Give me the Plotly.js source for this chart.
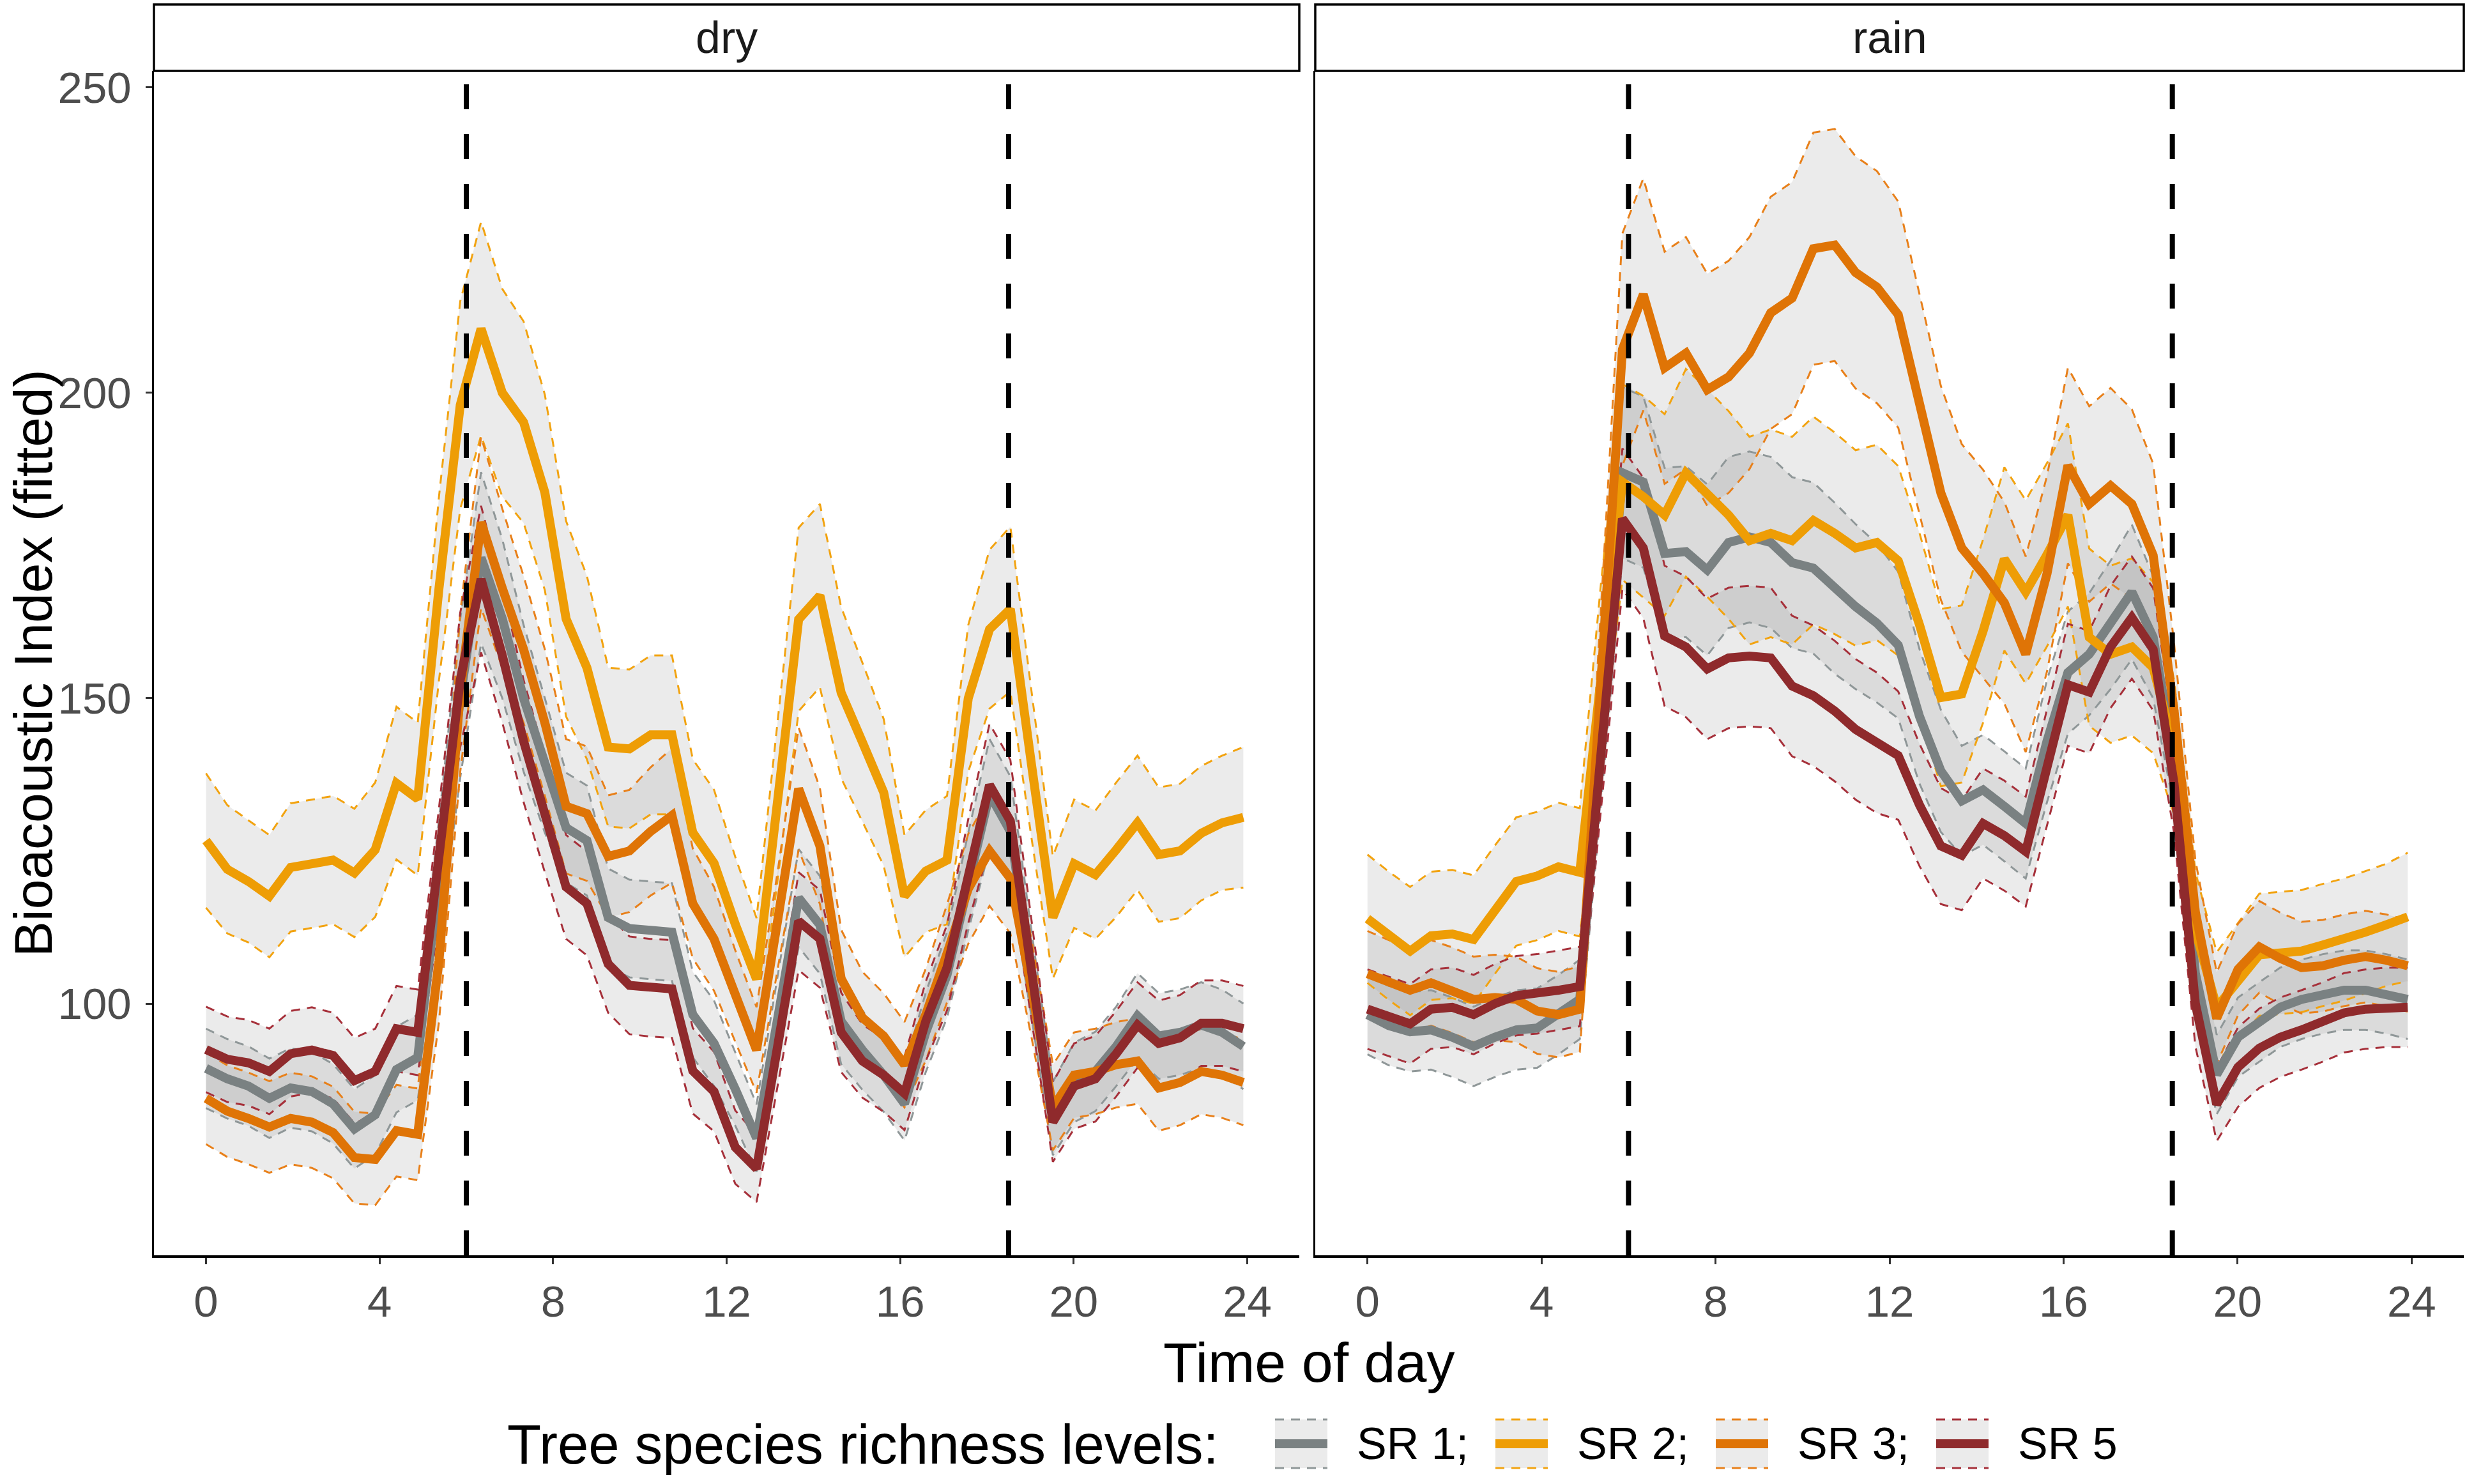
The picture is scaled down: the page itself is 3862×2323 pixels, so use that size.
<!DOCTYPE html>
<html>
<head>
<meta charset="utf-8">
<script src="https://cdn.plot.ly/plotly-3.0.1.min.js"></script>
<style>
html,body{margin:0;padding:0;background:#ffffff;}
#chart{width:3862px;height:2323px;}
</style>
</head>
<body>
<div id="chart"></div>
<script>
// ---------------- DATA ----------------
const timeOfDay = [0,0.49,0.98,1.46,1.95,2.44,2.93,3.42,3.9,4.39,4.88,5.37,5.86,6.34,6.83,7.32,7.81,8.3,8.78,9.27,9.76,10.25,10.74,11.22,11.71,12.2,12.69,13.18,13.66,14.15,14.64,15.13,15.62,16.1,16.59,17.08,17.57,18.06,18.54,19.03,19.52,20.01,20.5,20.98,21.47,21.96,22.45,22.94,23.42,23.91];

const panelNames = ['dry', 'rain'];
const seriesNames = ['SR 1', 'SR 2', 'SR 3', 'SR 5'];
const legendLabels = ['SR 1;', 'SR 2;', 'SR 3;', 'SR 5'];
const legendTitle = 'Tree species richness levels:';
const xTitle = 'Time of day';
const yTitle = 'Bioacoustic Index (fitted)';
const sunTimes = [6, 18.5];
const xTickValues = [0, 4, 8, 12, 16, 20, 24];
const yTickValues = [100, 150, 200, 250];

// dry season: fitted values and confidence half-widths
const dry_SR1_fit = [89.4,87.7,86.5,84.5,86.2,85.6,83.6,79.5,81.8,89.2,
 91.2,120,150,173,163,150,139,128.8,126.7,114.1,
 112.3,112,111.7,98.2,93.5,86,78,97.7,117.3,112.9,
 97.1,92.4,88.3,83.6,95.3,104.7,120,134.3,128.2,104.7,
 81.2,87.1,88.9,93,98,94.7,95.3,96.5,95.3,93];
const dry_SR1_ci = [6.5,6.5,6.5,6.5,6.5,6.5,6.5,6.5,6.5,7,
 7,10,13,14,13,12,11,9,9,8,
 8,8,8,7,7,6,5.5,7,8,8,
 7,6.5,6,6,6.5,7,8,9,9,7,
 6,6.5,6.5,6.5,7,7,7,7,7,7];

const dry_SR2_fit = [126.7,122,120,117.6,122.3,122.9,123.5,121.4,125.2,136.1,
 133.5,168,198,210.5,200,195.2,183.7,163,155,142,
 141.7,144,144,128,123,113,104,133.5,162.9,166.8,
 150.9,142.8,134.6,117.6,121.7,123.5,150,161.3,164.6,139,
 114.1,122.9,121.1,125.2,129.6,124.4,125,127.9,129.6,130.5];
const dry_SR2_ci = [11,10.5,10,10,10.5,10.5,10.5,10.5,11,12.5,
 12.5,15,17,17.5,17,16.5,16,16,15,13,
 13,13,13,12,12,11,10,13,15,15,
 14,13,12,10,10,10.5,12,13,13.5,12,
 10,10.5,10.5,11,11,11,11,11,11,11.5];

const dry_SR3_fit = [84.5,82.4,81.2,79.8,81.2,80.6,78.9,74.8,74.5,79.2,
 78.6,107,151,178.8,168,158,146,132.3,131.1,124.1,
 125,128.2,130.8,116.4,110.6,101.2,92.4,113.8,135.2,125.8,
 104.1,97.7,94.7,90,98.2,108.2,118.8,125,120.5,102.4,
 83,88.3,88.9,90,90.6,86.2,87.1,88.9,88.3,87.1];
const dry_SR3_ci = [7.5,7.5,7.5,7.5,7.5,7.5,7.5,7.5,7.5,7.5,
 7.5,10,13,14,13,12,12,11,11,10,
 10,10.5,11,9,8.5,7.5,7,8,10,9.5,
 8,7.5,7,7,7.5,8,9,9,9,8,
 7,7,7,7,7,7,7,7,7,7];

const dry_SR5_fit = [92.5,90.9,90.3,88.9,91.8,92.4,91.5,87.4,88.9,95.9,
 95.3,123,153,169.5,157,143,131,119.1,116.4,106.5,
 103,102.6,102.4,89,85.6,76.5,73,93.2,113.5,110.6,
 95.3,90.6,88.3,85.3,97.1,105.9,121.7,135.8,129.9,105.3,
 80.6,86.5,87.7,91.8,96.5,93.5,94.4,96.8,96.8,95.9];
const dry_SR5_ci = [7,7,7,7,7,7,7,7,7,7,
 7,9,11,12,11,10,9.5,8.5,8.5,8,
 8,8,8,7,6.5,6,5.5,6.5,8,8,
 6.5,6,6,6,6.5,7,8.5,10,10,8,
 6.5,7,7,7,7,7,7,7,7,7];

// rain season
const rain_SR1_fit = [98.2,96.4,95.4,95.7,94.5,93,94.5,95.7,96,98.2,
 100.7,143,186.9,185.4,173.7,174,171,175.5,176.4,175.5,
 172.2,171.3,168,165,162.3,158.7,147,138.1,133.2,135,
 132.3,129.5,143,154.2,157.2,162,167.4,160,140,105,
 88.4,94.5,97,99.4,100.7,101.6,102.2,102.2,101.6,100.7];
const rain_SR1_ci = [6.5,6.5,6.5,6.5,6.5,6.5,6.5,6.5,6.5,6.5,
 6.5,10,14,14,14,14,14,14,14,14,
 14,14,14,13.5,13,12,11,10,9,9,
 9,9,10,10,10,10.5,11,10,8,7,
 6.5,6.5,6.5,6.5,6.5,6.5,6.5,6.5,6.5,6.5];

const rain_SR2_fit = [113.9,111.1,108.6,111.1,111.4,110.5,115.4,120,120.9,122.4,
 121.5,155,185.4,183,180,186.9,183.6,180,175.8,177,
 175.8,179.1,177,174.6,175.5,172.5,162,150.1,150.7,161,
 172.8,167.4,173.5,180,160,157.2,158.4,155,142,112,
 99.4,103.7,108,108.3,108.6,109.6,110.5,111.7,112.9,114.2];
const rain_SR2_ci = [10.5,10.5,10.5,10.5,10.5,10.5,10.5,10.5,10.5,10.5,
 10.5,14,16,16.5,16.5,17,17,17,17,17,
 17,17,16.5,16,16,15.5,15,14.5,14.5,15,
 15,15,15,15,14.5,14.5,14.5,14,11,9.5,
 9,9.5,10,10,10,10,10,10,10,10.5];

const rain_SR3_fit = [104.9,103.4,102.2,103.4,102.2,100.7,101,100.7,98.8,98.2,
 99.1,153,207.1,216.1,204.1,206.5,200.5,202.6,206.5,213.1,
 215.5,223.6,224.2,219.7,217.3,212.8,198.1,183.6,174.6,170.4,
 165.6,157.2,170.4,188.1,181.8,184.8,181.8,173.4,148,115,
 97.6,105.6,109.3,107.4,105.9,106.2,107.1,107.7,107.1,106.2];
const rain_SR3_ci = [7,7,7,7,7,7,7,7,7,7,
 7,12,19,19,19,19,19,19,19,19,
 19,19,19,19,19,18.5,18,17.5,17,17,
 16.5,16,16,16,16,16,15.5,15,11,8.5,
 7.5,7.5,7.5,7.5,7.5,7.5,7.5,7.5,7.5,7.5];

const rain_SR5_fit = [99.1,97.9,96.7,99.1,99.4,98.2,100,101.3,101.6,102.2,
 102.8,141,179.4,174.6,160.2,158.4,154.8,156.6,156.9,156.6,
 152,150.4,147.9,144.9,142.7,140.6,132.5,125.8,124.3,129.5,
 127.5,124.9,138.7,152.2,151,158.4,163.2,158,136,100,
 83.5,89.6,92.7,94.5,95.7,97,98.5,99.1,99.4,99.4];
const rain_SR5_ci = [6.5,6.5,6.5,6.5,6.5,6.5,6.5,6.5,6.5,6.5,
 6.5,9,11.5,11.5,11.5,11.5,11.5,11.5,11.5,11.5,
 11.5,11.5,11.5,11.5,11.5,10.5,10,9.5,9,9,
 9,9,9.5,10,10,10,10,10,8,7,
 6,6.5,6.5,6.5,6.5,6.5,6.5,6.5,6.5,6.5];

// ---------------- STYLE ----------------
const lineColors = ['#7a8182', '#ee9d05', '#df7406', '#8f2a2c'];
const dashColors = ['#8f9798', '#f2a310', '#e8801a', '#a6303a'];
const ribbonFill = 'rgba(160,160,160,0.21)';
const keyFill = '#ebebeb';
const FONT = 'Liberation Sans, Arial, Helvetica, sans-serif';

const panelFits = [
  [dry_SR1_fit, dry_SR2_fit, dry_SR3_fit, dry_SR5_fit],
  [rain_SR1_fit, rain_SR2_fit, rain_SR3_fit, rain_SR5_fit]
];
const panelCis = [
  [dry_SR1_ci, dry_SR2_ci, dry_SR3_ci, dry_SR5_ci],
  [rain_SR1_ci, rain_SR2_ci, rain_SR3_ci, rain_SR5_ci]
];

const traces = [];
panelNames.forEach((pname, pi) => {
  const xa = pi === 0 ? 'x' : 'x2';
  const ya = pi === 0 ? 'y' : 'y2';
  const fits = panelFits[pi], cis = panelCis[pi];
  const lows = fits.map((f, si) => f.map((v, i) => v - cis[si][i]));
  const highs = fits.map((f, si) => f.map((v, i) => v + cis[si][i]));
  // ribbons
  fits.forEach((f, si) => {
    traces.push({x: timeOfDay, y: lows[si], xaxis: xa, yaxis: ya, type: 'scatter', mode: 'lines',
      line: {width: 0, color: 'rgba(0,0,0,0)'}, showlegend: false, hoverinfo: 'skip'});
    traces.push({x: timeOfDay, y: highs[si], xaxis: xa, yaxis: ya, type: 'scatter', mode: 'lines',
      line: {width: 0, color: 'rgba(0,0,0,0)'}, fill: 'tonexty', fillcolor: ribbonFill,
      showlegend: false, hoverinfo: 'skip'});
  });
  // dashed confidence bounds
  fits.forEach((f, si) => {
    [lows[si], highs[si]].forEach(b => {
      traces.push({x: timeOfDay, y: b, xaxis: xa, yaxis: ya, type: 'scatter', mode: 'lines',
        line: {width: 3, color: dashColors[si], dash: '14px,11px'}, showlegend: false, hoverinfo: 'skip'});
    });
  });
  // fitted lines
  fits.forEach((f, si) => {
    traces.push({x: timeOfDay, y: f, xaxis: xa, yaxis: ya, type: 'scatter', mode: 'lines',
      name: seriesNames[si], showlegend: false,
      line: {width: 14, color: lineColors[si]}});
  });
});

// ---------------- LAYOUT ----------------
const W = 3862, H = 2323;
const px = v => v / W;
const py = v => 1 - v / H;
const dryL = 241, dryR = 2034, rainL = 2059, rainR = 3857;
const plotTop = 111, plotBot = 1965, stripTop = 7;

const axisCommon = {
  range: [-1.2, 25.2], tickvals: xTickValues, ticks: 'outside', ticklen: 10, tickwidth: 3,
  tickcolor: '#333333', showline: true, linecolor: '#000000', linewidth: 3.5,
  showgrid: false, zeroline: false, tickfont: {size: 69, color: '#4d4d4d', family: FONT},
  fixedrange: true
};
const yCommon = {
  domain: [py(plotBot), py(plotTop)], range: [58.8, 252.7], showline: true, linecolor: '#000000',
  linewidth: 3.5, showgrid: false, zeroline: false, fixedrange: true
};

const shapes = [];
const annotations = [];
[[dryL, dryR, 'x', 'y'], [rainL, rainR, 'x2', 'y2']].forEach((p, pi) => {
  shapes.push({type: 'rect', xref: 'paper', yref: 'paper', x0: px(p[0]), x1: px(p[1]),
    y0: py(plotTop), y1: py(stripTop), line: {color: '#000', width: 3.5}, fillcolor: '#ffffff', layer: 'above'});
  annotations.push({xref: 'paper', yref: 'paper', x: px((p[0] + p[1]) / 2), y: py((plotTop + stripTop) / 2),
    text: panelNames[pi], showarrow: false, xanchor: 'center', yanchor: 'middle',
    font: {size: 70, color: '#1a1a1a', family: FONT}});
  sunTimes.forEach(t => {
    shapes.push({type: 'line', xref: p[2], yref: p[3] + ' domain', x0: t, x1: t, y0: 0, y1: 1,
      line: {color: '#000000', width: 8, dash: '39px,39px'}, layer: 'above'});
  });
});
// axis titles
annotations.push({xref: 'paper', yref: 'paper', x: px((dryL + rainR) / 2), y: py(2132),
  text: xTitle, showarrow: false, xanchor: 'center', yanchor: 'middle', borderpad: 0,
  font: {size: 88, color: '#000', family: FONT}});
annotations.push({xref: 'paper', yref: 'paper', x: px(52), y: py((plotTop + plotBot) / 2),
  text: yTitle, textangle: -90, showarrow: false, xanchor: 'center', yanchor: 'middle',
  borderpad: 0, font: {size: 84, color: '#000', family: FONT}});

// legend (drawn as keys + real text)
const legendY = 2260, keyHalf = 38;
const labelLeft = [2122, 2467, 2812, 3157];
annotations.push({xref: 'paper', yref: 'paper', x: px(792), y: py(legendY), text: legendTitle,
  showarrow: false, xanchor: 'left', yanchor: 'middle', font: {size: 87, color: '#000', family: FONT}});
seriesNames.forEach((s, si) => {
  const kx0 = labelLeft[si] - 126, kx1 = labelLeft[si] - 44;
  shapes.push({type: 'rect', xref: 'paper', yref: 'paper', x0: px(kx0), x1: px(kx1),
    y0: py(legendY + keyHalf), y1: py(legendY - keyHalf), line: {width: 0}, fillcolor: keyFill});
  [legendY - keyHalf, legendY + keyHalf].forEach(yy => {
    shapes.push({type: 'line', xref: 'paper', yref: 'paper', x0: px(kx0), x1: px(kx1),
      y0: py(yy), y1: py(yy), line: {color: dashColors[si], width: 3, dash: '14px,11px'}});
  });
  shapes.push({type: 'line', xref: 'paper', yref: 'paper', x0: px(kx0), x1: px(kx1),
    y0: py(legendY), y1: py(legendY), line: {color: lineColors[si], width: 14}});
  annotations.push({xref: 'paper', yref: 'paper', x: px(labelLeft[si]), y: py(legendY), text: legendLabels[si],
    showarrow: false, xanchor: 'left', yanchor: 'middle', font: {size: 70, color: '#000', family: FONT}});
});

const layout = {
  width: W, height: H,
  margin: {l: 0, r: 0, t: 0, b: 0, pad: 0},
  paper_bgcolor: '#ffffff', plot_bgcolor: 'rgba(0,0,0,0)',
  font: {family: FONT, color: '#000'},
  showlegend: false,
  xaxis: Object.assign({}, axisCommon, {domain: [px(dryL), px(dryR)], anchor: 'y'}),
  xaxis2: Object.assign({}, axisCommon, {domain: [px(rainL), px(rainR)], anchor: 'y2'}),
  yaxis: Object.assign({}, yCommon, {anchor: 'x', tickvals: yTickValues, ticks: 'outside', ticklen: 10,
    tickwidth: 3, tickcolor: '#333333', ticklabelstandoff: 8,
    tickfont: {size: 69, color: '#4d4d4d', family: FONT}}),
  yaxis2: Object.assign({}, yCommon, {anchor: 'x2', showticklabels: false, ticks: ''}),
  shapes: shapes,
  annotations: annotations
};

Plotly.newPlot('chart', traces, layout, {staticPlot: true, displayModeBar: false});
</script>
</body>
</html>
